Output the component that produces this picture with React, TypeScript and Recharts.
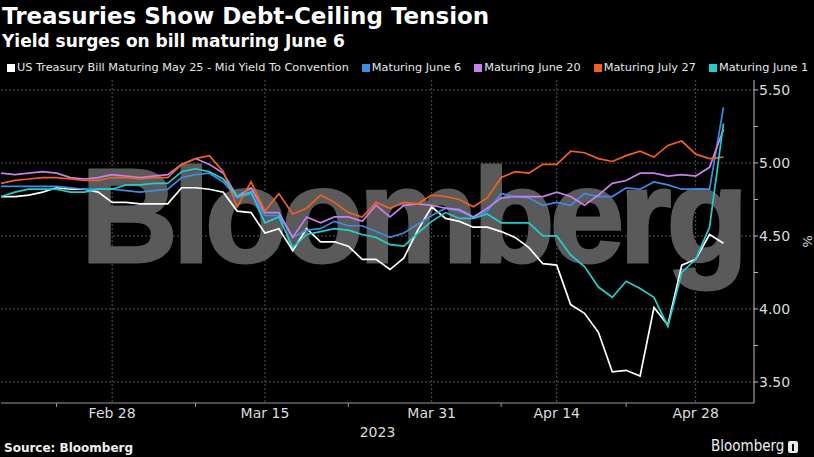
import React from 'react';
import { LineChart, Line, XAxis, YAxis, CartesianGrid } from 'recharts';

// trading days shown on the chart (Feb 20 and Apr 7 closed)
const dates = [
    '2023-02-15', '2023-02-16', '2023-02-17', '2023-02-21', '2023-02-22', '2023-02-23', '2023-02-24', '2023-02-27', '2023-02-28',
    '2023-03-01', '2023-03-02', '2023-03-03', '2023-03-06', '2023-03-07', '2023-03-08', '2023-03-09', '2023-03-10',
    '2023-03-13', '2023-03-14', '2023-03-15', '2023-03-16', '2023-03-17', '2023-03-20', '2023-03-21', '2023-03-22',
    '2023-03-23', '2023-03-24', '2023-03-27', '2023-03-28', '2023-03-29', '2023-03-30', '2023-03-31',
    '2023-04-03', '2023-04-04', '2023-04-05', '2023-04-06', '2023-04-10', '2023-04-11', '2023-04-12', '2023-04-13',
    '2023-04-14', '2023-04-17', '2023-04-18', '2023-04-19', '2023-04-20', '2023-04-21', '2023-04-24', '2023-04-25',
    '2023-04-26', '2023-04-27', '2023-04-28', '2023-05-01', '2023-05-02',
];

const may25 = [
    4.77, 4.77, 4.78, 4.80, 4.83, 4.82, 4.82, 4.80, 4.73, 4.73, 4.72, 4.72, 4.72, 4.83, 4.83, 4.82, 4.80,
    4.67, 4.66, 4.52, 4.55, 4.40, 4.55, 4.46, 4.46, 4.43, 4.34, 4.34, 4.27, 4.35, 4.54, 4.70,
    4.62, 4.60, 4.56, 4.56, 4.53, 4.49, 4.42, 4.31, 4.30, 4.03, 3.97, 3.84, 3.57, 3.58, 3.54, 4.01,
    3.89, 4.30, 4.34, 4.51, 4.45,
];
const june6 = [
    4.84, 4.84, 4.84, 4.84, 4.84, 4.83, 4.82, 4.82, 4.82, 4.81, 4.80, 4.81, 4.82, 4.90, 4.92, 4.93, 4.87,
    4.76, 4.79, 4.64, 4.64, 4.49, 4.54, 4.55, 4.60, 4.57, 4.57, 4.53, 4.49, 4.52, 4.58, 4.64,
    4.69, 4.67, 4.63, 4.67, 4.79, 4.77, 4.76, 4.71, 4.73, 4.71, 4.79, 4.77, 4.77, 4.83, 4.82, 4.87,
    4.85, 4.82, 4.82, 4.82, 5.38,
];
const june20 = [
    4.93, 4.92, 4.93, 4.94, 4.93, 4.90, 4.89, 4.90, 4.92, 4.91, 4.90, 4.91, 4.92, 4.99, 5.03, 4.99, 4.93,
    4.77, 4.83, 4.66, 4.66, 4.49, 4.63, 4.59, 4.63, 4.63, 4.60, 4.71, 4.63, 4.71, 4.72, 4.71,
    4.69, 4.68, 4.63, 4.69, 4.76, 4.77, 4.77, 4.77, 4.80, 4.77, 4.71, 4.78, 4.86, 4.88, 4.93, 4.93,
    4.91, 4.92, 4.91, 4.97, 5.23,
];
const july27 = [
    4.86, 4.88, 4.89, 4.90, 4.90, 4.89, 4.88, 4.88, 4.90, 4.90, 4.89, 4.90, 4.90, 4.99, 5.03, 5.05, 4.94,
    4.70, 4.87, 4.67, 4.79, 4.65, 4.69, 4.78, 4.73, 4.66, 4.63, 4.73, 4.69, 4.73, 4.72, 4.78,
    4.77, 4.75, 4.70, 4.76, 4.90, 4.94, 4.93, 4.99, 4.99, 5.08, 5.07, 5.03, 5.01, 5.05, 5.08, 5.04,
    5.12, 5.15, 5.06, 5.03, 5.04,
];
const june1 = [
    4.77, 4.80, 4.82, 4.82, 4.82, 4.80, 4.80, 4.82, 4.82, 4.85, 4.85, 4.86, 4.86, 4.94, 4.96, 4.94, 4.89,
    4.77, 4.80, 4.59, 4.63, 4.42, 4.51, 4.53, 4.55, 4.54, 4.51, 4.49, 4.44, 4.43, 4.52, 4.60,
    4.66, 4.62, 4.62, 4.65, 4.59, 4.59, 4.59, 4.50, 4.50, 4.37, 4.29, 4.15, 4.08, 4.19, 4.14, 4.08,
    3.88, 4.25, 4.34, 4.56, 5.27,
];

const majorDates = ['2023-02-28', '2023-03-15', '2023-03-31', '2023-04-14', '2023-04-28'];
const majorLabels = ['Feb 28', 'Mar 15', 'Mar 31', 'Apr 14', 'Apr 28'];
const minorDates = ['2023-02-22', '2023-03-08', '2023-03-23', '2023-04-10', '2023-04-21'];
const yTicks = [3.5, 3.75, 4, 4.25, 4.5, 4.75, 5, 5.25, 5.5];
const yGrid = [3.5, 4, 4.5, 5, 5.5];

const series = [
    { key: 'may25', name: 'US Treasury Bill Maturing May 25 - Mid Yield To Convention', color: '#ffffff' },
    { key: 'june6', name: 'Maturing June 6', color: '#3a8ee8' },
    { key: 'june20', name: 'Maturing June 20', color: '#c77ff0' },
    { key: 'july27', name: 'Maturing July 27', color: '#f0611f' },
    { key: 'june1', name: 'Maturing June 1', color: '#22cdcd' },
];

const data = dates.map((d, i) => ({
    i, date: d,
    may25: may25[i], june6: june6[i], june20: june20[i], july27: july27[i], june1: june1[i],
}));

const majorIdx = majorDates.map(d => dates.indexOf(d));
const minorIdx = minorDates.map(d => dates.indexOf(d));

const FONT = '"DejaVu Sans", sans-serif';
const TXT = '#dcdcdc';

const XTick = (props: any) => {
    const { x, y, payload } = props;
    const k = majorIdx.indexOf(payload.value);
    if (k >= 0) {
        return <text x={x} y={y} dy="0.71em" textAnchor="middle" fill={TXT} fontSize={14} fontFamily={FONT}>{majorLabels[k]}</text>;
    }
    return <line x1={x} x2={x} y1={y - 5} y2={y - 1} stroke="#9a9a9a" />;
};

const YTick = (props: any) => {
    const { x, y, payload } = props;
    if (!yGrid.includes(payload.value)) return <g />;
    return <text x={x} y={y} dy="0.355em" textAnchor="start" fill={TXT} fontSize={14} fontFamily={FONT}>{payload.value.toFixed(2)}</text>;
};

export default function App() {
    return (
        <div style={{ position: 'fixed', left: 0, top: 0, width: 814, height: 457, background: '#000', overflow: 'hidden', fontFamily: FONT }}>
            <div style={{ position: 'absolute', left: 2, top: 5, fontSize: 23, lineHeight: '23px', fontWeight: 'bold', color: '#fff', whiteSpace: 'nowrap' }}>
                Treasuries Show Debt-Ceiling Tension
            </div>
            <div style={{ position: 'absolute', left: 2, top: 33, fontSize: 17, lineHeight: '17px', fontWeight: 'bold', color: '#fff', whiteSpace: 'nowrap' }}>
                Yield surges on bill maturing June 6
            </div>
            <div style={{ position: 'absolute', left: 7, top: 62, display: 'flex', alignItems: 'center', fontSize: 11.3, lineHeight: '11px', color: '#e6e6e6', whiteSpace: 'nowrap' }}>
                {series.map(s => (
                    <div key={s.key} style={{ display: 'flex', alignItems: 'center', marginRight: 13 }}>
                        <span style={{ display: 'inline-block', width: 8, height: 8, background: s.color, marginRight: 2 }} />
                        <span>{s.name}</span>
                    </div>
                ))}
            </div>

            {/* watermark */}
            <div style={{ position: 'absolute', left: 81, top: 149, fontFamily: '"Liberation Sans", Arial, sans-serif', fontWeight: 'bold', fontSize: 134, lineHeight: '134px', letterSpacing: -5, color: '#5a5a5a', WebkitTextStroke: '3px #5a5a5a', whiteSpace: 'nowrap' }}>
                Bloomberg
            </div>

            <div style={{ position: 'absolute', left: 0, top: 70 }}>
                <LineChart width={814} height={375} data={data} margin={{ top: 10, right: 0, bottom: 0, left: 1 }}>
                    <CartesianGrid stroke="#555" strokeDasharray="2 2" horizontalValues={yGrid} verticalValues={majorIdx} />
                    <XAxis dataKey="i" type="number" domain={[0, 54.2]} ticks={[...majorIdx, ...minorIdx]} interval={0}
                        height={42} tickSize={4} tickMargin={1} tickLine={false} tick={<XTick />}
                        stroke="#9a9a9a" allowDataOverflow
                        label={{ value: '2023', position: 'insideBottom', offset: 8, fill: TXT, fontSize: 14, fontFamily: FONT }} />
                    <YAxis orientation="right" type="number" domain={[3.356, 5.568]} ticks={yTicks} interval={0}
                        width={60} tickSize={4} tickMargin={1} tick={<YTick />} stroke="#bdbdbd" allowDataOverflow
                        label={{ value: '%', angle: 90, position: 'insideRight', offset: 6, fill: TXT, fontSize: 13, fontFamily: FONT, dy: 6 }} />
                    {series.map(s => (
                        <Line key={s.key} dataKey={s.key} name={s.name} type="linear" stroke={s.color} strokeWidth={1.7}
                            dot={false} activeDot={false} isAnimationActive={false} />
                    ))}
                </LineChart>
            </div>

            <div style={{ position: 'absolute', left: 4, top: 442, fontSize: 12, lineHeight: '12px', fontWeight: 'bold', color: '#f0f0f0', whiteSpace: 'nowrap' }}>
                Source: Bloomberg
            </div>
            <div style={{ position: 'absolute', left: 711, top: 439, display: 'flex', alignItems: 'center', color: '#f0f0f0' }}>
                <span style={{ fontFamily: '"DejaVu Sans Condensed", "DejaVu Sans", sans-serif', fontSize: 15, lineHeight: '15px', whiteSpace: 'nowrap' }}>Bloomberg</span>
                <span style={{ display: 'inline-block', width: 10, height: 12, background: '#e8e8e8', borderRadius: 2, marginLeft: 4, position: 'relative' }}>
                    <span style={{ position: 'absolute', left: 4, top: 3, width: 2, height: 7, background: '#000' }} />
                </span>
            </div>
        </div>
    );
}
